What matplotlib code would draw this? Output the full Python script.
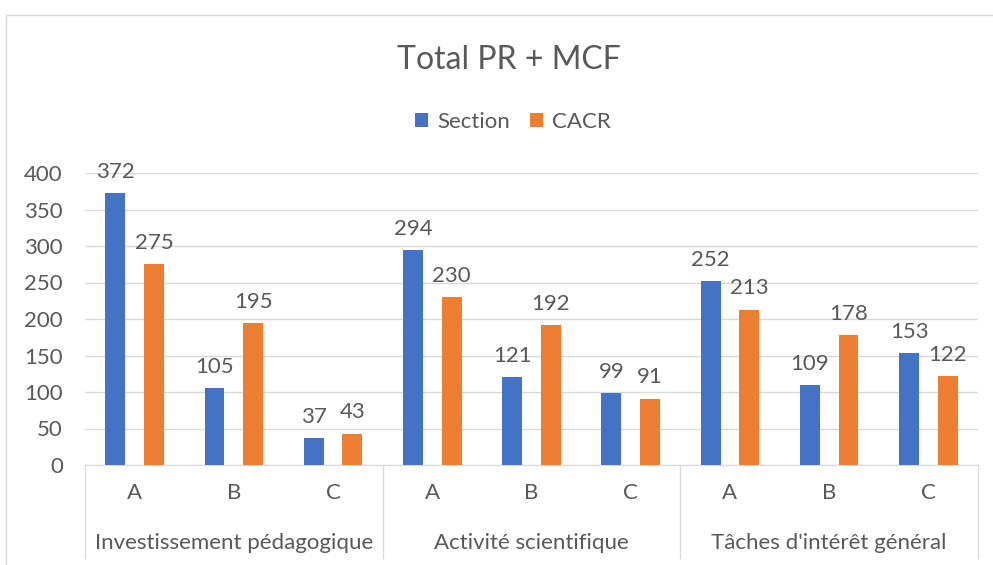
import numpy as np
import matplotlib.pyplot as plt
from matplotlib.patches import Rectangle

plt.rcParams['font.family'] = ['Lato', 'DejaVu Sans']

# -------- DATA --------
groups = ["Investissement pédagogique", "Activité scientifique", "Tâches d'intérêt général"]
cats = ["A", "B", "C"]
section = [372, 105, 37, 294, 121, 99, 252, 109, 153]
cacr = [275, 195, 43, 230, 192, 91, 213, 178, 122]

BLUE = "#4472C4"
ORANGE = "#ED7D31"
GREY = "#D9D9D9"
TXT = "#595959"

W, H = 993, 565
fig = plt.figure(figsize=(W / 100, H / 100), dpi=100)

# chart border
fig.patches.append(Rectangle((5.5 / W, -0.1), 1.2, 1 - 14.5 / H + 0.1,
                             transform=fig.transFigure, fill=False,
                             edgecolor=GREY, lw=1))

ax = fig.add_axes([85 / W, 1 - 465 / H, (978 - 85) / W, (465 - 173) / H])

x = np.arange(len(section))
bw = 0.2
b1 = ax.bar(x - 0.195, section, bw, color=BLUE, label="Section", zorder=3)
b2 = ax.bar(x + 0.195, cacr, bw, color=ORANGE, label="CACR", zorder=3)

for bars, vals in ((b1, section), (b2, cacr)):
    for r, v in zip(bars, vals):
        ax.annotate(str(v), (r.get_x() + r.get_width() / 2, v),
                    xytext=(0, 8), textcoords="offset points",
                    ha="center", va="bottom", fontsize=16, color=TXT)

ax.set_xlim(-0.5, len(section) - 0.5)
ax.set_ylim(0, 400)
ax.set_yticks(range(0, 401, 50))
ax.tick_params(axis="y", length=0, labelsize=16, labelcolor=TXT, pad=16)
ax.set_xticks([])
ax.grid(axis="y", color=GREY, lw=1, zorder=0)
for s in ("top", "right", "left"):
    ax.spines[s].set_visible(False)
ax.spines["bottom"].set_color(GREY)

# multi-level category axis
trans = ax.get_xaxis_transform()
for i in range(len(section)):
    ax.text(i, -28 / 292, cats[i % 3], transform=trans, ha="center",
            va="center", fontsize=16, color=TXT)
for g, name in enumerate(groups):
    ax.text(g * 3 + 1, -78 / 292, name, transform=trans, ha="center",
            va="center", fontsize=16, color=TXT)
for b in range(len(groups) + 1):
    ax.plot([b * 3 - 0.5] * 2, [0, -93 / 292], transform=trans, color=GREY,
            lw=1, clip_on=False)

fig.text(509 / W, 1 - 60 / H, "Total PR + MCF", ha="center", va="center",
         fontsize=23, color=TXT)
fig.legend(handles=[b1, b2], loc="center", bbox_to_anchor=(513 / W, 1 - 122 / H),
           ncol=2, frameon=False, fontsize=16, labelcolor=TXT,
           handlelength=0.6, handleheight=0.6, handletextpad=0.4,
           columnspacing=0.9)

fig.savefig("out.png", dpi=100)
